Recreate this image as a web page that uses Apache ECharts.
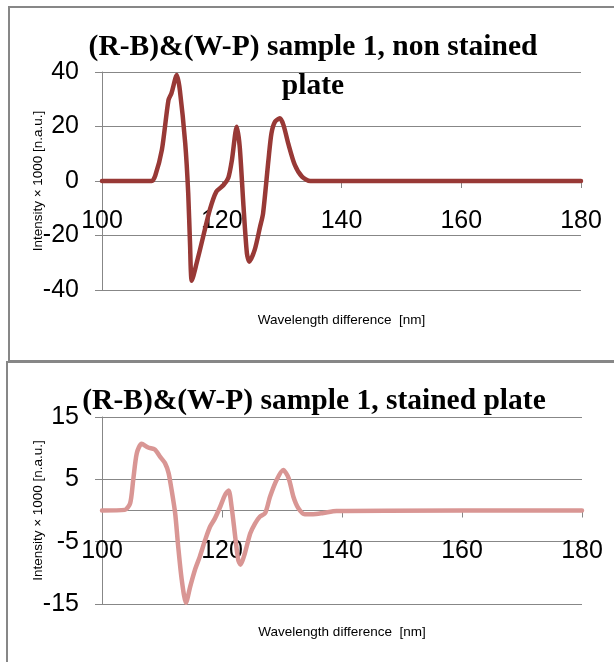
<!DOCTYPE html>
<html>
<head>
<meta charset="utf-8">
<script src="https://cdn.jsdelivr.net/npm/echarts@6/dist/echarts.min.js"></script>
<style>
html,body{margin:0;padding:0;background:#fff;}
#chart{width:614px;height:662px;}
</style>
</head>
<body>
<div id="chart"></div>
<script>
// ---- Data ----
const titleTop = '(R-B)&(W-P) sample 1, non stained\nplate';
const titleBottom = '(R-B)&(W-P) sample 1, stained plate';
const xAxisTitle = 'Wavelength difference  [nm]';
const yAxisTitle = 'Intensity \u00d7 1000 [n.a.u.]';

const xTicks = [100, 120, 140, 160, 180];
const yTicksTop = [-40, -20, 0, 20, 40];
const yTicksBottom = [-15, -5, 5, 15];

// Top panel: non stained plate
const topX = [100, 104, 108.3, 108.9, 110, 111.1, 111.6, 112.5, 113.0, 113.9, 114.4, 114.7, 115.0, 115.8, 116.9, 118.0, 119.1, 120.3, 121.1, 121.7, 122.5, 123.0, 123.6, 124.2, 124.6, 125.5, 126.4, 126.9, 127.8, 128.3, 128.9, 129.7, 130.3, 131.1, 132.2, 133.4, 134.8, 140, 160, 180];
const topY = [0, 0, 0, 2.0, 11.4, 29.7, 32.2, 38.9, 33.4, 13.8, -4.5, -22.9, -36.6, -30.2, -20.4, -10.6, -3.9, -1.5, 1.2, 7.7, 19.9, 12.6, -8.2, -26.5, -29.6, -25.3, -16.8, -11.9, 7.7, 17.5, 21.8, 23.0, 20.6, 13.8, 5.9, 1.6, 0, 0, 0, 0];

// Bottom panel: stained plate
const botX = [100, 103.8, 104.7, 105.2, 105.8, 106.6, 107.7, 108.8, 109.7, 110.5, 111.1, 111.6, 112.2, 112.7, 113.3, 114.0, 114.7, 115.5, 116.3, 117.2, 118.0, 118.8, 119.7, 120.5, 121.1, 121.6, 122.2, 122.7, 123.1, 123.8, 124.7, 125.5, 126.3, 127.2, 128.0, 129.1, 130.2, 131.1, 131.9, 132.7, 133.8, 135.2, 136.9, 139.1, 160, 180];
const botY = [0, 0.1, 1.2, 4.9, 9.2, 10.7, 10.1, 9.8, 8.6, 7.6, 6.0, 3.3, -0.5, -5.8, -11.2, -14.8, -12.2, -9.5, -7.4, -4.7, -2.6, -1.3, 0.6, 2.5, 3.2, 0.6, -4.2, -7.9, -8.7, -6.9, -3.7, -2.1, -1.0, -0.4, 2.2, 4.9, 6.5, 5.2, 2.2, 0.4, -0.6, -0.6, -0.4, -0.1, 0, 0];

// ---- Build ----
const pair = (xs, ys) => xs.map((x, i) => [x, ys[i]]);
const gray = '#878787';
const sans = '"Liberation Sans", Arial, sans-serif';
const serif = '"Liberation Serif", "Times New Roman", serif';

// x axis drawn where y = 0 (offset from the grid bottom)
function xAxisCfg(gridIndex, offset, nameGap) {
  return {
    type: 'value', gridIndex: gridIndex, position: 'bottom', offset: offset,
    min: xTicks[0], max: xTicks[xTicks.length - 1], interval: xTicks[1] - xTicks[0],
    name: xAxisTitle, nameLocation: 'middle', nameGap: nameGap, nameMoveOverlap: false,
    nameTextStyle: { fontFamily: sans, fontSize: 13.5, color: '#000' },
    axisLine: { show: true, onZero: false, lineStyle: { color: gray, width: 1 } },
    axisTick: { show: true, length: 7, inside: false, lineStyle: { color: gray } },
    axisLabel: { show: true, margin: 28, fontFamily: sans, fontSize: 25, color: '#000', showMinLabel: true, showMaxLabel: true, hideOverlap: false },
    splitLine: { show: false }
  };
}
function yAxisCfg(gridIndex, ticks) {
  return {
    type: 'value', gridIndex: gridIndex,
    min: ticks[0], max: ticks[ticks.length - 1], interval: ticks[1] - ticks[0],
    name: yAxisTitle, nameLocation: 'middle', nameGap: 57, nameMoveOverlap: false,
    nameTextStyle: { fontFamily: sans, fontSize: 13.5, color: '#000' },
    axisLine: { show: true, onZero: false, lineStyle: { color: gray, width: 1 } },
    axisTick: { show: true, length: 7, inside: false, lineStyle: { color: gray } },
    axisLabel: { show: true, margin: 23, fontFamily: sans, fontSize: 25, color: '#000' },
    splitLine: { show: true, lineStyle: { color: gray, width: 1 } }
  };
}

const chart = echarts.init(document.getElementById('chart'), null, { renderer: 'canvas' });
chart.setOption({
  animation: false,
  backgroundColor: '#fff',
  graphic: [
    { type: 'rect', shape: { x: 9, y: 7, width: 700, height: 354 }, style: { fill: 'none', stroke: gray, lineWidth: 2 }, z: -10 },
    { type: 'rect', shape: { x: 7, y: 362, width: 700, height: 400 }, style: { fill: 'none', stroke: gray, lineWidth: 2 }, z: -10 }
  ],
  title: [
    { text: titleTop, left: 313, top: 28, textAlign: 'center', padding: 0, itemGap: 0,
      textStyle: { fontFamily: serif, fontWeight: 'bold', fontSize: 29.5, lineHeight: 39, color: '#000' } },
    { text: titleBottom, left: 314, top: 384, textAlign: 'center', padding: 0,
      textStyle: { fontFamily: serif, fontWeight: 'bold', fontSize: 29.5, lineHeight: 34, color: '#000' } }
  ],
  grid: [
    { left: 102, top: 72, width: 479, height: 218, containLabel: false, outerBoundsMode: 'none' },
    { left: 102, top: 417, width: 480, height: 187, containLabel: false, outerBoundsMode: 'none' }
  ],
  xAxis: [xAxisCfg(0, -109, 132), xAxisCfg(1, -93.5, 115)],
  yAxis: [yAxisCfg(0, yTicksTop), yAxisCfg(1, yTicksBottom)],
  series: [
    { type: 'line', xAxisIndex: 0, yAxisIndex: 0, data: pair(topX, topY), smooth: 0.25, showSymbol: false,
      lineStyle: { color: '#983936', width: 4.5, cap: 'round', join: 'round' } },
    { type: 'line', xAxisIndex: 1, yAxisIndex: 1, data: pair(botX, botY), smooth: 0.25, showSymbol: false,
      lineStyle: { color: '#D99694', width: 4.5, cap: 'round', join: 'round' } }
  ]
});
</script>
</body>
</html>
